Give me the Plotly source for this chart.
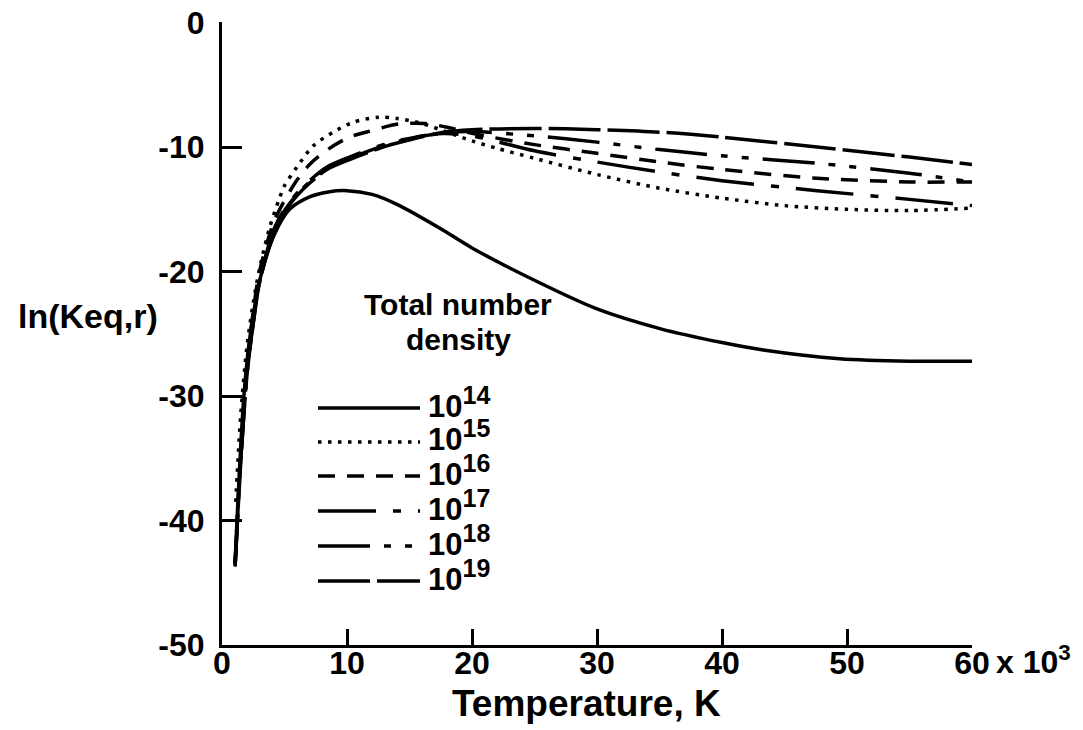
import plotly.graph_objects as go

FONT = "Liberation Sans Narrow, Liberation Sans, Arial, sans-serif"

# ---------------- data ----------------
exponents = [14, 15, 16, 17, 18, 19]

temp_e14 = [1.05, 1.2, 1.5, 1.75, 2.2, 2.7, 3.2, 4.2, 5.4, 7.0, 8.5, 10, 12, 14, 17.4, 20, 25.2, 30, 35.1, 40, 43.3, 49.4, 55, 60]
lnk_e14 = [-43.4, -40.0, -34.0, -30.0, -25.5, -22.3, -20.0, -17.0, -15.0, -14.0, -13.6, -13.5, -13.8, -14.6, -16.5, -18.1, -20.8, -23.0, -24.6, -25.7, -26.3, -27.0, -27.2, -27.2]

temp_e15 = [1.1, 1.5, 2.0, 2.5, 3.0, 3.8, 4.6, 5.0, 6.0, 7.3, 8.9, 10.5, 12.5, 14, 16, 18, 20, 22, 25, 30, 35, 40, 45, 50, 55, 60]
lnk_e15 = [-38.5, -31.5, -26.0, -22.5, -19.8, -16.5, -14.1, -13.1, -11.6, -9.9, -8.8, -8.0, -7.6, -7.7, -8.1, -8.8, -9.5, -10.1, -10.9, -12.2, -13.3, -14.1, -14.7, -15.0, -15.1, -14.9]

temp_e16 = [1.05, 1.5, 2.0, 2.5, 3.0, 4.2, 5.7, 7.0, 8.6, 10.2, 11.7, 14.1, 16.2, 18, 20, 25, 30, 35, 40, 47.6, 55, 60]
lnk_e16 = [-43.3, -34.5, -27.5, -23.2, -20.0, -15.9, -13.1, -11.4, -10.1, -9.2, -8.75, -8.15, -8.1, -8.4, -8.9, -9.8, -10.5, -11.2, -11.8, -12.5, -12.8, -12.8]

temp_e17 = [1.05, 1.5, 2.0, 2.5, 3.0, 4.2, 5.0, 6.0, 7.0, 8.4, 10.2, 13.2, 15.5, 17.7, 20, 25, 30, 35, 40, 47.6, 55, 60]
lnk_e17 = [-43.5, -35.0, -28.0, -24.0, -20.7, -16.5, -15.0, -13.7, -12.7, -11.6, -10.8, -9.7, -9.2, -8.9, -9.1, -10.3, -11.2, -12.0, -12.7, -13.5, -14.2, -14.7]

temp_e18 = [1.05, 1.5, 2.0, 2.5, 3.0, 4.2, 5.0, 6.0, 7.0, 8.4, 10.2, 13.2, 15.5, 17.7, 20, 25, 30, 35, 40, 47.6, 55, 60]
lnk_e18 = [-43.6, -35.2, -28.2, -24.1, -20.8, -16.6, -15.1, -13.8, -12.8, -11.7, -10.9, -9.8, -9.2, -8.85, -8.75, -9.1, -9.6, -10.2, -10.7, -11.3, -12.1, -12.8]

temp_e19 = [1.05, 1.5, 2.0, 2.5, 3.0, 4.2, 5.0, 6.0, 7.0, 8.4, 10.2, 13.2, 15.5, 17.7, 20, 25, 30, 35, 40, 47.6, 55, 60]
lnk_e19 = [-43.7, -35.3, -28.3, -24.2, -20.9, -16.7, -15.2, -13.9, -12.9, -11.8, -11.0, -9.9, -9.3, -8.8, -8.6, -8.5, -8.6, -8.8, -9.2, -10.0, -10.8, -11.4]

temps = [temp_e14, temp_e15, temp_e16, temp_e17, temp_e18, temp_e19]
lnks = [lnk_e14, lnk_e15, lnk_e16, lnk_e17, lnk_e18, lnk_e19]

x_ticks = [0, 10, 20, 30, 40, 50, 60]
x_ticktext = ["0", "10", "20", "30", "40", "50", "60"]
y_ticks = [0, -10, -20, -30, -40, -50]
y_ticktext = ["0", "-10", "-20", "-30", "-40", "-50"]

# ---------------- styles ----------------
dashes = ["solid", "3.5px,6.5px", "17px,12px", "58px,17px,8px,17px",
          "52px,14px,7px,14px,7px,14px", "52px,7px"]
LW = 3.5

# the page body adds an 8px offset; compensate so the plot lands where the reference has it
OFF = 8
W, H = 1083 - OFF, 730 - OFF
ML, MR, MT, MB = 222 - OFF, 111, 22 - OFF, 85
PW, PH = W - ML - MR, H - MT - MB


def px2paper(px, py):
    # screen pixel (as in the reference picture) -> paper fraction
    px -= OFF
    py -= OFF
    return (px - ML) / PW, (H - MB - py) / PH


fig = go.Figure()
for e, t, v, d in zip(exponents, temps, lnks, dashes):
    fig.add_trace(go.Scatter(
        x=t, y=v, mode="lines", name=f"10^{e}", showlegend=False,
        line=dict(color="black", width=LW, dash=d, shape="spline", smoothing=0.8),
        hoverinfo="skip"))

tf = dict(family=FONT, size=32, color="black", weight="bold")

fig.update_layout(
    width=W, height=H,
    margin=dict(l=ML, r=MR, t=MT, b=MB, pad=0, autoexpand=False),
    paper_bgcolor="white", plot_bgcolor="white",
    xaxis=dict(range=[0, 60], tickvals=x_ticks, ticktext=x_ticktext, automargin=False,
               showgrid=False, zeroline=False, showline=True, linecolor="black",
               linewidth=3, ticks="inside", ticklen=16, tickwidth=2.5,
               tickcolor="black", tickfont=tf, ticklabelstandoff=-12,
               ticklabeloverflow="allow"),
    yaxis=dict(range=[-50, 0.05], tickvals=y_ticks, ticktext=y_ticktext, automargin=False,
               showgrid=False, zeroline=False, showline=True, linecolor="black",
               linewidth=3, ticks="inside", ticklen=20, tickwidth=2.5,
               tickcolor="black", tickfont=tf, ticklabelstandoff=8,
               ticklabeloverflow="allow"),
)

ann = []
# axis titles
xp, yp = px2paper(586, 703)
ann.append(dict(x=xp, y=yp, xref="paper", yref="paper", text="Temperature, K",
                showarrow=False, font=dict(family=FONT, size=37, color="black", weight="bold"),
                xanchor="center", yanchor="middle"))
xp, yp = px2paper(88, 316)
ann.append(dict(x=xp, y=yp, xref="paper", yref="paper", text="ln(Keq,r)",
                showarrow=False, font=dict(family=FONT, size=34, color="black", weight="bold"),
                xanchor="center", yanchor="middle"))
# x 10^3 next to last tick
xp, yp = px2paper(994, 660)
ann.append(dict(x=xp, y=yp, xref="paper", yref="paper", text="x 10<sup>3</sup>",
                showarrow=False, font=dict(family=FONT, size=32, color="black", weight="bold"),
                xanchor="left", yanchor="middle"))

# legend title
for txt, py in [("Total number", 305), ("density", 339)]:
    xp, yp = px2paper(458, py)
    ann.append(dict(x=xp, y=yp, xref="paper", yref="paper", text=txt,
                    showarrow=False, font=dict(family=FONT, size=30, color="black", weight="bold"),
                    xanchor="center", yanchor="middle"))

shapes = []
row_y = [408, 442, 476, 511, 546, 581]
for e, d, py in zip(exponents, dashes, row_y):
    x0, y0 = px2paper(318, py)
    x1, _ = px2paper(420, py)
    shapes.append(dict(type="line", xref="paper", yref="paper", x0=x0, x1=x1, y0=y0, y1=y0,
                       line=dict(color="black", width=LW, dash=d)))
    xp, yp = px2paper(426, py - 6)
    ann.append(dict(x=xp, y=yp, xref="paper", yref="paper",
                    text=f"10<sup><span style='font-size:25px'>{e}</span></sup>",
                    showarrow=False, font=dict(family=FONT, size=31, color="black", weight="bold"),
                    xanchor="left", yanchor="middle"))

fig.update_layout(annotations=ann, shapes=shapes)
fig.write_html("out.html")
